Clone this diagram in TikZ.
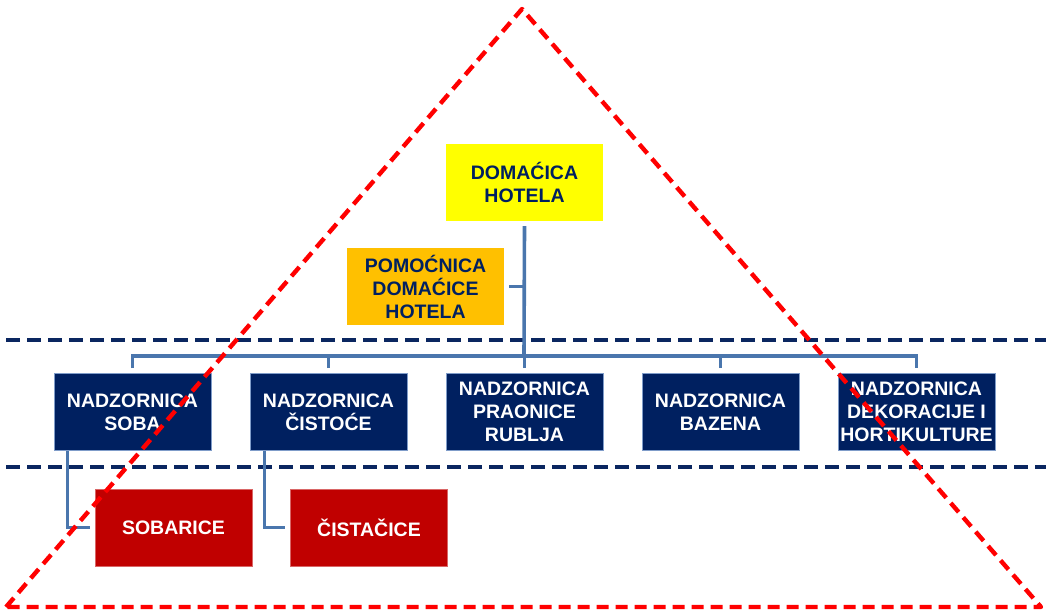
\documentclass[tikz,border=0pt]{standalone}
\usepackage{fontspec}
\setmainfont{Liberation Sans}
\definecolor{navy}{HTML}{002060}
\definecolor{navyedge}{HTML}{7F9CC9}
\definecolor{connblue}{HTML}{4A76AD}
\definecolor{dashnavy}{HTML}{0A2660}
\definecolor{ored}{HTML}{C00000}
\definecolor{oorange}{HTML}{FFC000}
\definecolor{oyellow}{HTML}{FFFF00}
\definecolor{tred}{HTML}{FF0000}
\begin{document}
\begin{tikzpicture}[x=1pt,y=-1pt,
  box/.style={rectangle, minimum width=157pt, minimum height=77pt, inner sep=0pt, align=center,
    font=\bfseries\fontsize{19.5}{23}\selectfont},
  navybox/.style={box, fill=navy, draw=navyedge, line width=0.8pt, text=white},
  yelbox/.style={box, fill=oyellow, text=navy},
  orbox/.style={box, fill=oorange, text=navy},
  redbox/.style={box, fill=ored, draw=ored!60!white, line width=0.6pt, text=white},
  conn/.style={draw=connblue, line width=3.6pt},
  sep/.style={draw=dashnavy, line width=4.6pt, dash pattern=on 14pt off 7pt},
  tri/.style={draw=tred, line width=4.4pt, dash pattern=on 12pt off 7pt}]
\useasboundingbox (0,0) rectangle (1049,610);

% separators
\coordinate (s1a) at (6,340);
\coordinate (s1b) at (1046,340);
\coordinate (s2a) at (6,467);
\coordinate (s2b) at (1046,467);
\draw[sep] (s1a) -- (s1b);
\draw[sep] (s2a) -- (s2b);

% boxes
\node[yelbox] (dom) at (524.5,182.5) {DOMAĆICA\\HOTELA};
\node[orbox] (pom) at (425.5,286.5) {POMOĆNICA\\DOMAĆICE\\HOTELA};
\node[navybox] (n1) at (132.5,412) {NADZORNICA\\SOBA};
\node[navybox] (n2) at (328.5,412) {NADZORNICA\\ČISTOĆE};
\node[navybox] (n3) at (524.5,412) {NADZORNICA\\PRAONICE\\RUBLJA};
\node[navybox] (n4) at (720.5,412) {NADZORNICA\\BAZENA};
\node[navybox] (n5) at (916.5,412) {NADZORNICA\\DEKORACIJE I\\HORTIKULTURE};
\node[redbox] (sob) at (173.5,527.5) {SOBARICE};
\node[redbox] (cis) at (369,527.5) {ČISTAČICE};

% connectors
\coordinate (bus) at (524,356);
\draw[conn] ([yshift=-5pt]dom.south) -- (bus);
\draw[conn] ([xshift=5pt]pom.east) -- (pom.east -| bus);
\draw[conn] ([yshift=5pt]n1.north) |- (bus) -| ([yshift=5pt]n5.north);
\draw[conn] ([yshift=5pt]n2.north) -- (n2.north |- bus);
\draw[conn] ([yshift=5pt]n3.north) -- (n3.north |- bus);
\draw[conn] ([yshift=5pt]n4.north) -- (n4.north |- bus);
\draw[conn] ([xshift=14pt]n1.south west) |- ([xshift=-5pt]sob.west);
\draw[conn] ([xshift=15pt]n2.south west) |- ([xshift=-5pt]cis.west);

% pyramid
\coordinate (apex) at (522,9);
\coordinate (bl) at (6,607);
\coordinate (br) at (1041,607);
\draw[tri, line join=round] (bl) -- (apex) -- (br) -- cycle;
\end{tikzpicture}
\end{document}
